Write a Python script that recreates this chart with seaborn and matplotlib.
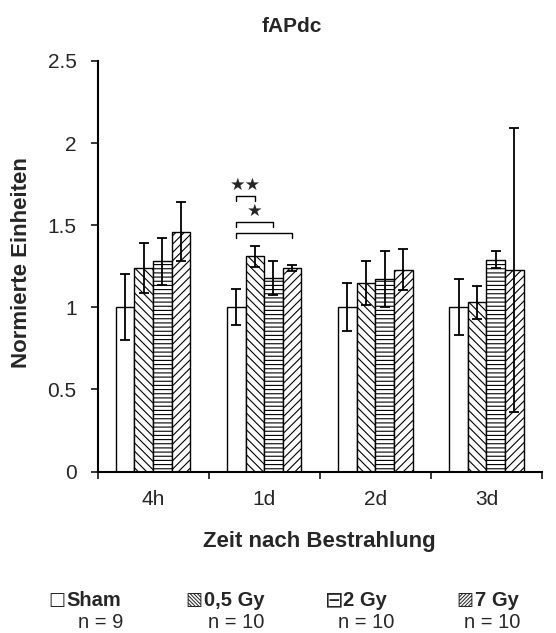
import matplotlib
matplotlib.use("Agg")
import matplotlib.pyplot as plt
import seaborn as sns
import pandas as pd
from matplotlib.ticker import FixedLocator

# Time points and irradiation groups
times = ["4h", "1d", "2d", "3d"]
groups = ["Sham", "0,5 Gy", "2 Gy", "7 Gy"]
group_n = [9, 10, 10, 10]

# Normalised fAPdc values (mean) per group over time
mean_sham = [1.00, 1.00, 1.00, 1.00]
mean_05gy = [1.24, 1.31, 1.15, 1.03]
mean_2gy = [1.28, 1.18, 1.17, 1.29]
mean_7gy = [1.46, 1.24, 1.23, 1.23]

# Standard deviations
sd_sham = [0.20, 0.11, 0.145, 0.17]
sd_05gy = [0.15, 0.065, 0.135, 0.10]
sd_2gy = [0.145, 0.105, 0.17, 0.05]
sd_7gy = [0.18, 0.02, 0.125, 0.865]

# Significance brackets: time point, group a, group b, bracket height, label
brackets = [
    ("1d", "Sham", "0,5 Gy", 1.68, "★★"),
    ("1d", "Sham", "2 Gy", 1.52, "★"),
    ("1d", "Sham", "7 Gy", 1.45, ""),
]

hatches = ["", "\\\\\\\\", "----", "////"]
legend_marks = ["□", "▧", "⊟", "▨"]
legend_mark_sizes = [13, 13, 16, 13]

means = [mean_sham, mean_05gy, mean_2gy, mean_7gy]
sds = [sd_sham, sd_05gy, sd_2gy, sd_7gy]
df = pd.DataFrame({
    "time": [t for g in groups for t in times],
    "group": [g for g in groups for _ in times],
    "value": [v for m in means for v in m],
    "sd": [s for sd in sds for s in sd],
})

sns.set_style("white")
plt.rcParams["font.family"] = ["Liberation Sans", "DejaVu Sans"]
plt.rcParams["hatch.linewidth"] = 0.8
plt.rcParams["hatch.color"] = "black"

fig = plt.figure(figsize=(5.56, 6.33), dpi=100)
W, H = 556, 633
ax_left, ax_right, ax_top, ax_bot = 97.5, 542, 61, 471.5
ax = fig.add_axes([ax_left / W, 1 - ax_bot / H,
                   (ax_right - ax_left) / W, (ax_bot - ax_top) / H])

sns.barplot(data=df, x="time", y="value", hue="group", order=times,
            hue_order=groups, palette=["white"] * 4, edgecolor="black",
            linewidth=1.0, width=0.67, errorbar=None, legend=False,
            saturation=1, ax=ax)

# Hatching and error bars per group
centers = {}
for gi, (cont, g) in enumerate(zip(ax.containers, groups)):
    xs = []
    for bar in cont:
        bar.set_hatch(hatches[gi])
        bar.set_facecolor("white")
        bar.set_edgecolor("black")
        xs.append(bar.get_x() + bar.get_width() / 2)
    centers[g] = xs
    ax.errorbar(xs, means[gi], yerr=sds[gi], fmt="none", ecolor="black",
                elinewidth=1.3, capsize=3.8, capthick=1.3, zorder=5)

# Significance brackets
leg = 0.03
for t, ga, gb, yb, lab in brackets:
    ti = times.index(t)
    xa = centers[ga][ti]
    xb = centers[gb][ti]
    ax.plot([xa, xa, xb, xb], [yb - leg, yb, yb, yb - leg], color="black",
            lw=1.0, zorder=6)
    if lab:
        ax.text((xa + xb) / 2, yb + 0.01, lab, ha="center", va="bottom",
                fontsize=12.5, family=["DejaVu Sans"])

ax.set_xlim(-0.5, 3.5)
ax.set_ylim(0, 2.5)
ax.set_yticks([0, 0.5, 1, 1.5, 2, 2.5])
ax.set_yticklabels(["0", "0.5", "1", "1.5", "2", "2.5"])
ax.xaxis.set_minor_locator(FixedLocator([-0.5, 0.5, 1.5, 2.5, 3.5]))
ax.tick_params(axis="x", which="major", length=0, pad=13, labelsize=15)
ax.tick_params(axis="x", which="minor", length=5, width=1.3,
               direction="out", bottom=True)
ax.tick_params(axis="y", which="major", length=5, width=1.3,
               direction="out", left=True, pad=10, labelsize=15)
for side in ["top", "right"]:
    ax.spines[side].set_visible(False)
for side in ["left", "bottom"]:
    ax.spines[side].set_linewidth(1.5)
    ax.spines[side].set_color("black")

ax.set_xlabel("Zeit nach Bestrahlung", fontsize=16, fontweight="bold",
              va="center")
ax.set_ylabel("Normierte Einheiten", fontsize=16, fontweight="bold",
              va="center")
ax.xaxis.set_label_coords(0.5, -0.17)
ax.yaxis.set_label_coords(-0.17, 0.51)

fig.text(291.7 / W, 1 - 27 / H, "fAPdc", ha="center", va="center",
         fontsize=15, fontweight="bold")

# Group key below the chart
mark_x = [56.5, 194, 334, 465]
name_x = [66, 204, 343, 475]
n_right = [123, 264, 394, 520]
for mk, ms, mx, nx, nr, g, n in zip(legend_marks, legend_mark_sizes, mark_x,
                                     name_x, n_right, groups, group_n):
    fig.text(mx / W, 1 - 600 / H, mk, ha="center", va="center",
             fontsize=ms, family=["DejaVu Sans"])
    fig.text(nx / W, 1 - 600 / H, g, ha="left", va="center",
             fontsize=14.5, fontweight="bold")
    fig.text(nr / W, 1 - 622 / H, f"n = {n}", ha="right", va="center",
             fontsize=14.5)

fig.savefig("out.png", dpi=100)
